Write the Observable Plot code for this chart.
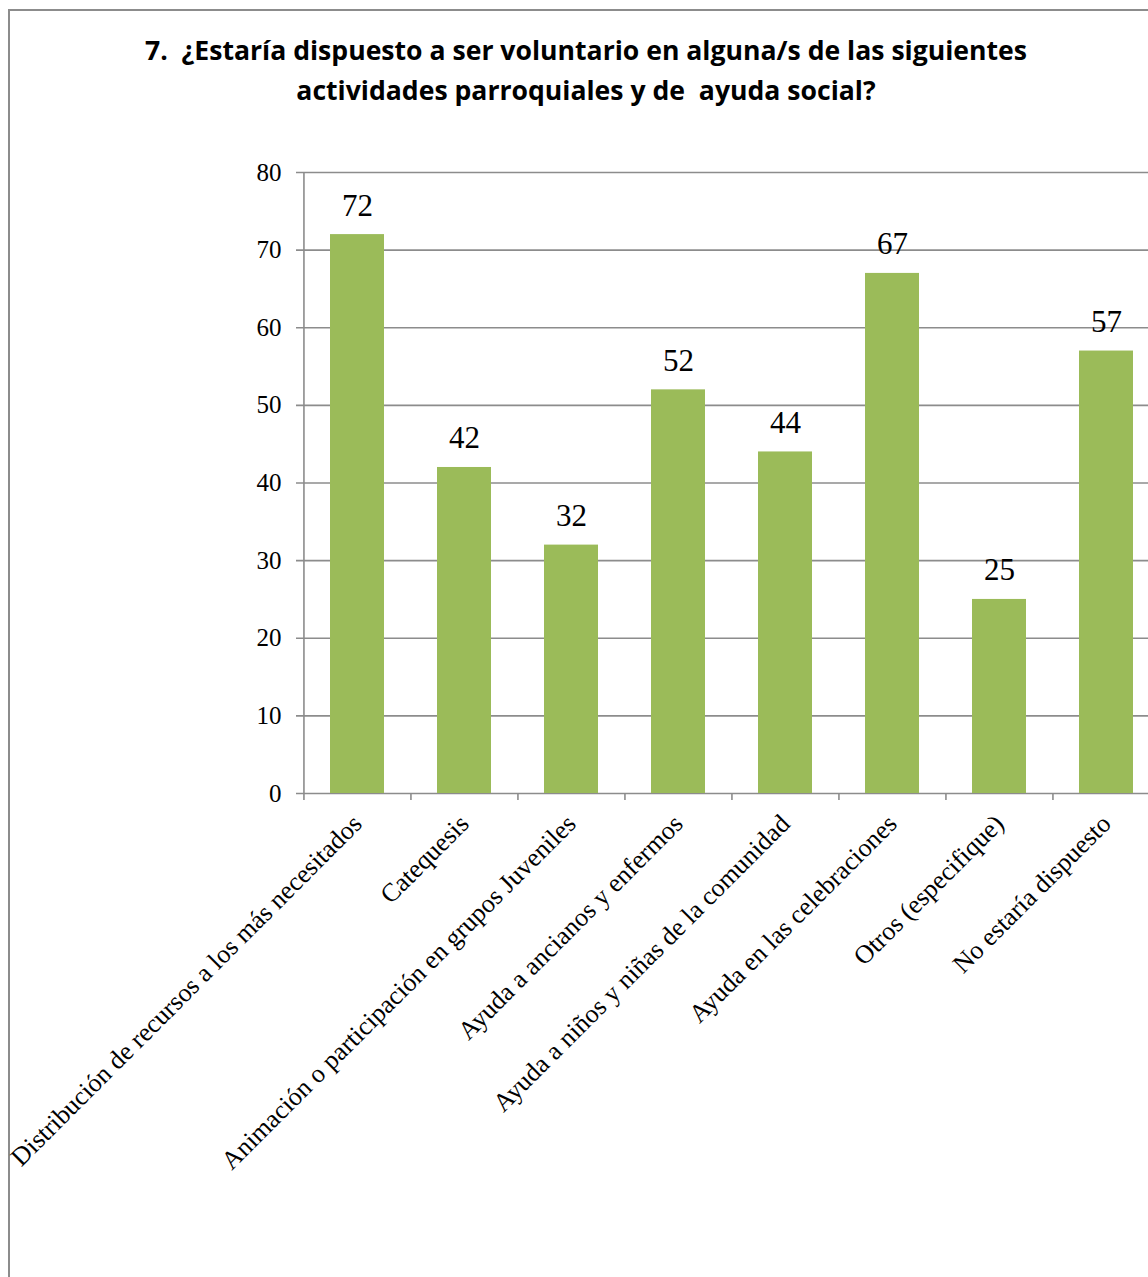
<!DOCTYPE html>
<html>
<head>
<meta charset="utf-8">
<script src="https://cdn.jsdelivr.net/npm/d3@7"></script>
<script src="https://cdn.jsdelivr.net/npm/@observablehq/plot@0.6"></script>
<style>
  html, body { margin: 0; padding: 0; background: #fff; overflow: hidden; width: 1148px; height: 1277px; }
  #frame { position: absolute; left: 8px; top: 9px; width: 1300px; height: 1400px; border: 2px solid #8c8c8c; box-sizing: border-box; }
  #title { position: absolute; left: 0; top: 30px; width: 1172px; text-align: center; font-family: "Open Sans", sans-serif; font-weight: bold; font-size: 26.6px; line-height: 40px; color: #000; }
  #chart { position: absolute; left: 0; top: 140px; width: 1200px; }
  #chart svg { max-width: none !important; }
</style>
</head>
<body>
<div id="frame"></div>
<div id="title">7.&nbsp; ¿Estaría dispuesto a ser voluntario en alguna/s de las siguientes<br>actividades parroquiales y de&nbsp; ayuda social?</div>
<div id="chart"></div>
<script>
const categorias = [
  "Distribución de recursos a los más necesitados",
  "Catequesis",
  "Animación o participación en grupos Juveniles",
  "Ayuda a ancianos y enfermos",
  "Ayuda a niños y niñas de la comunidad",
  "Ayuda en las celebraciones",
  "Otros (especifique)",
  "No estaría dispuesto"
];
const valores = [72, 42, 32, 52, 44, 67, 25, 57];
const ticksY = [0, 10, 20, 30, 40, 50, 60, 70, 80];

const datos = categorias.map((c, i) => ({categoria: c, valor: valores[i]}));
const halfStep = 857 / 8 / 2;

const chart = Plot.plot({
  width: 1200,
  height: 1053,
  marginLeft: 303,
  marginRight: 40,
  marginTop: 32,
  marginBottom: 400,
  style: {fontFamily: "Liberation Serif, serif", background: "transparent", color: "#000", maxWidth: "none"},
  x: {domain: categorias, paddingInner: 0.5, paddingOuter: 0.25, align: 0.5, label: null},
  y: {domain: [0, 80], ticks: ticksY, label: null},
  marks: [
    Plot.ruleY(ticksY, {stroke: "#8c8c8c", strokeWidth: 1.6, insetLeft: -7}),
    Plot.barY(datos, {x: "categoria", y: "valor", fill: "#9BBB59"}),
    Plot.ruleX(categorias, {x: d => d, y1: (d, i) => i === 0 ? 80 : 0, y2: -0.9, dx: -halfStep, stroke: "#8c8c8c", strokeWidth: 1.6}),
    Plot.axisY({ticks: ticksY, tickSize: 0, tickPadding: 22, fontSize: 25, label: null}),
    Plot.axisX({tickSize: 0, tickPadding: 26, tickRotate: -45, fontSize: 26, label: null}),
    Plot.text(datos, {x: "categoria", y: "valor", text: d => String(d.valor), dy: -19, lineAnchor: "bottom", fontSize: 31})
  ]
});
document.getElementById("chart").appendChild(chart);
</script>
</body>
</html>
